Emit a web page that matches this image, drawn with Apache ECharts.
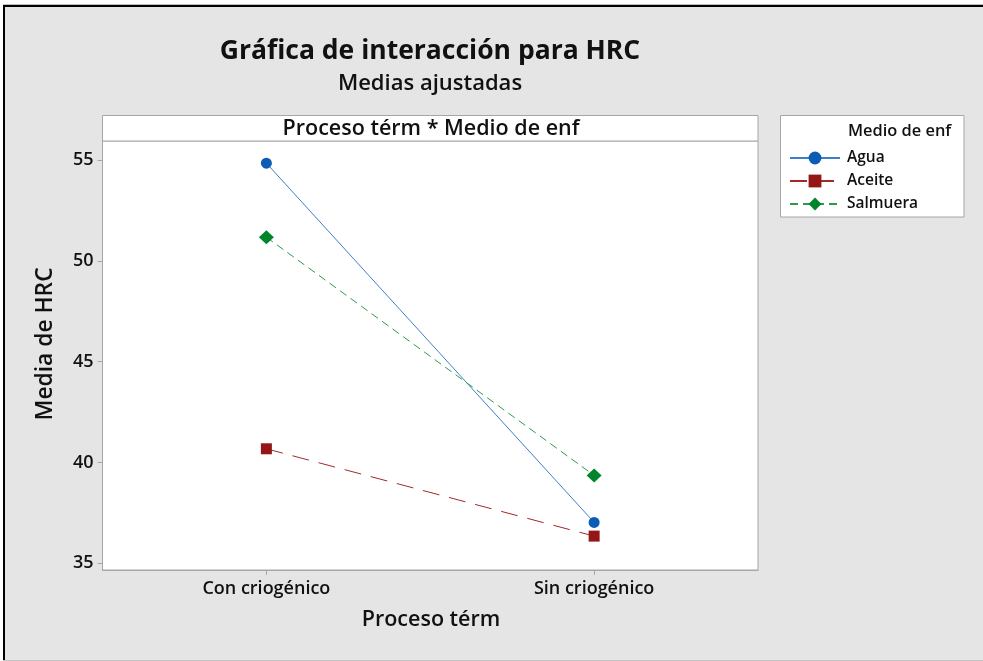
<!DOCTYPE html>
<html>
<head>
<meta charset="utf-8">
<script src="https://cdn.jsdelivr.net/npm/echarts@6/dist/echarts.min.js"></script>
<style>
html,body{margin:0;padding:0;background:#ffffff;}
#c{width:983px;height:661px;}
</style>
</head>
<body>
<div id="c"></div>
<script>
const categories = ['Con criogénico', 'Sin criogénico'];
const seriesNames = ['Agua', 'Aceite', 'Salmuera'];
const agua = [54.84, 37.03];
const aceite = [40.68, 36.35];
const salmuera = [51.17, 39.36];
const yTicks = [35, 40, 45, 50, 55];

const FONT = '"Open Sans", "Noto Sans", sans-serif';
const BG = '#e5e5e5';
const FRAME = '#a6a6a6';
const TXT = '#111111';

const chart = echarts.init(document.getElementById('c'), null, {renderer: 'canvas'});

const gridL = 102.5, gridT = 141, gridR = 758, gridB = 570;

const option = {
  animation: false,
  backgroundColor: 'transparent',
  textStyle: {fontFamily: FONT},
  grid: {
    left: gridL, top: gridT, width: gridR - gridL, height: gridB - gridT,
    show: true, backgroundColor: '#ffffff', borderColor: FRAME, borderWidth: 1,
    containLabel: false
  },
  xAxis: {
    type: 'category',
    data: categories,
    boundaryGap: true,
    axisLine: {show: true, lineStyle: {color: FRAME, width: 1}},
    axisTick: {show: true, alignWithLabel: true, interval: 0, length: 5, lineStyle: {color: FRAME}},
    axisLabel: {show: true, interval: 0, margin: 10, fontSize: 18, fontWeight: 600, color: TXT, fontFamily: FONT},
    splitLine: {show: false}
  },
  yAxis: {
    type: 'value',
    min: 34.67,
    max: 55.94,
    axisLine: {show: true, lineStyle: {color: FRAME, width: 1}},
    axisTick: {show: true, length: 5, lineStyle: {color: FRAME}, customValues: yTicks},
    axisLabel: {show: true, margin: 9, fontSize: 18, fontWeight: 600, color: TXT, fontFamily: FONT, customValues: yTicks},
    splitLine: {show: false}
  },
  legend: {
    orient: 'vertical',
    left: 789,
    top: 150,
    itemWidth: 50,
    itemHeight: 16,
    itemGap: 7,
    padding: 0,
    textStyle: {fontSize: 15.5, fontWeight: 600, color: TXT, fontFamily: FONT, padding: [0, 0, 0, 2]},
    data: seriesNames
  },
  series: [
    {
      name: seriesNames[0], type: 'line', data: agua,
      symbol: 'circle', symbolSize: 11,
      itemStyle: {color: '#0b5cb5'},
      lineStyle: {color: '#3f7fc9', width: 1, type: 'solid'}
    },
    {
      name: seriesNames[1], type: 'line', data: aceite,
      symbol: 'rect', symbolSize: 11,
      itemStyle: {color: '#951616'},
      lineStyle: {color: '#a02a2a', width: 1, type: [17, 10]}
    },
    {
      name: seriesNames[2], type: 'line', data: salmuera,
      symbol: 'diamond', symbolSize: [15, 14],
      itemStyle: {color: '#00852b'},
      lineStyle: {color: '#2e9a4c', width: 1, type: [8, 5]}
    }
  ],
  graphic: [
    {type: 'rect', z: -10, silent: true, shape: {x: 3, y: 5, width: 985, height: 660}, style: {fill: BG}},
    {type: 'line', z: 100, silent: true, shape: {x1: 3, y1: 4.5, x2: 983, y2: 4.5}, style: {stroke: '#bdbdbd', lineWidth: 1}},
    {type: 'line', z: 100, silent: true, shape: {x1: 3, y1: 6, x2: 983, y2: 6}, style: {stroke: '#000000', lineWidth: 2}},
    {type: 'line', z: 100, silent: true, shape: {x1: 4, y1: 5, x2: 4, y2: 661}, style: {stroke: '#000000', lineWidth: 2}},
    {type: 'line', z: 100, silent: true, shape: {x1: 3, y1: 660.5, x2: 983, y2: 660.5}, style: {stroke: '#c4c4c4', lineWidth: 1}},
    {type: 'text', silent: true, style: {
      text: 'Gráfica de interacción para HRC', x: 430, y: 51, align: 'center', verticalAlign: 'middle',
      font: 'bold 26.5px ' + FONT, fill: TXT}},
    {type: 'text', silent: true, style: {
      text: 'Medias ajustadas', x: 430, y: 84, align: 'center', verticalAlign: 'middle',
      font: '600 22px ' + FONT, fill: TXT}},
    {type: 'rect', silent: true, shape: {x: 102.5, y: 115.5, width: 655.5, height: 25.5},
      style: {fill: '#ffffff', stroke: FRAME, lineWidth: 1}},
    {type: 'text', silent: true, style: {
      text: 'Proceso térm * Medio de enf', x: 431, y: 128.5, align: 'center', verticalAlign: 'middle',
      font: '600 21.5px ' + FONT, fill: TXT}},
    {type: 'text', silent: true, rotation: Math.PI / 2, x: 46, y: 344, style: {
      text: 'Media de HRC', x: 0, y: 0, align: 'center', verticalAlign: 'middle',
      font: '600 22.8px ' + FONT, fill: TXT}},
    {type: 'text', silent: true, style: {
      text: 'Proceso térm', x: 431, y: 620, align: 'center', verticalAlign: 'middle',
      font: '600 21.5px ' + FONT, fill: TXT}},
    {type: 'rect', silent: true, z: -1, shape: {x: 780.5, y: 115.5, width: 183.5, height: 101.5},
      style: {fill: '#ffffff', stroke: FRAME, lineWidth: 1}},
    {type: 'text', silent: true, style: {
      text: 'Medio de enf', x: 848, y: 131, align: 'left', verticalAlign: 'middle',
      font: '600 16.4px ' + FONT, fill: TXT}}
  ]
};
chart.setOption(option);
</script>
</body>
</html>
